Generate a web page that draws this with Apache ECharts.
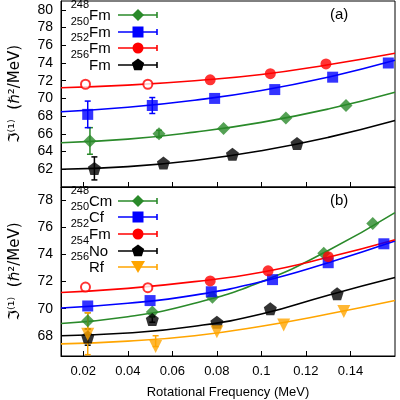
<!DOCTYPE html>
<html><head><meta charset="utf-8">
<script src="https://cdn.jsdelivr.net/npm/echarts@6/dist/echarts.min.js"></script>
<style>html,body{margin:0;padding:0;background:#fff}#c{width:400px;height:400px}</style>
</head><body><div id="c"></div>
<script>
// ---------- data ----------
const xTicks = [0.02, 0.04, 0.06, 0.08, 0.1, 0.12, 0.14];
const yTicksA = [62, 64, 66, 68, 70, 72, 74, 76, 78, 80];
const yTicksB = [68, 70, 72, 74, 76, 78];
const curveX = [0.01, 0.04, 0.07, 0.1, 0.13, 0.16];

// panel (a)
const fm248 = [[0.023,65.2],[0.054,66.0],[0.083,66.6],[0.111,67.8],[0.138,69.2]];
const fm248Err = [1.5, 0.4, 0, 0, 0];
const fm250 = [[0.022,68.2],[0.051,69.2],[0.079,70.0],[0.106,71.0],[0.132,72.4],[0.157,74.0]];
const fm250Err = [1.5, 0.9, 0, 0, 0, 0];
const fm252 = [[0.021,71.6],[0.049,71.6],[0.077,72.1],[0.104,72.8],[0.129,73.9]];
const fm256 = [[0.025,62.1],[0.056,62.7],[0.087,63.7],[0.116,64.9]];
const fm256Err = [1.3, 0, 0, 0];
const fitA248 = [65.0, 65.4, 66.2, 67.3, 68.8, 70.7];
const fitA250 = [68.5, 69.0, 69.8, 70.9, 72.4, 74.3];
const fitA252 = [71.2, 71.5, 72.0, 72.7, 73.8, 75.1];
const fitA256 = [62.0, 62.3, 63.0, 64.1, 65.6, 67.5];

// panel (b)
const cm248 = [[0.022,69.1],[0.051,69.75],[0.078,70.85],[0.128,74.1],[0.150,76.3]];
const cm248Err = [0.6, 0, 0, 0, 0];
const cf250 = [[0.022,70.2],[0.050,70.6],[0.0775,71.25],[0.105,72.15],[0.130,73.4],[0.155,74.8]];
const fm252b = [[0.021,71.6],[0.049,71.55],[0.077,72.05],[0.103,72.8],[0.130,73.85]];
const no254 = [[0.022,67.9],[0.051,69.2],[0.080,69.0],[0.104,70.0],[0.134,71.1]];
const no254Err = [0.6, 0.2, 0, 0, 0];
const rf256 = [[0.022,68.1],[0.0525,67.2],[0.080,68.3],[0.110,68.8],[0.137,69.8]];
const rf256ErrLo = [1.5, 0, 0, 0, 0];
const rf256ErrHi = [1.6, 0.8, 0, 0, 0];
const fitB248 = [68.9, 69.4, 70.4, 72.0, 74.3, 77.1];
const fitB250 = [70.05, 70.4, 71.0, 72.0, 73.4, 75.0];
const fitB252 = [71.2, 71.5, 72.0, 72.7, 73.8, 75.1];
const fitB254 = [68.0, 68.2, 68.7, 69.6, 71.0, 72.3];
const fitB256 = [67.4, 67.6, 68.0, 68.7, 69.6, 70.6];

// ---------- style ----------
const GREEN = '#2a8a2a', BLUE = '#0000ff', RED = '#ff0000', BLACK = '#000000', ORANGE = '#ffa500';
const PENT = 'path://M0,-1L0.951,-0.309L0.588,0.809L-0.588,0.809L-0.951,-0.309Z';
const FONT = 'Liberation Sans';

function fit(ys){ return curveX.map((x,i)=>[x, ys[i]]); }
function line(ys, color, gi){
  return {type:'line', xAxisIndex:gi, yAxisIndex:gi, data:fit(ys), smooth:true, showSymbol:false,
    lineStyle:{color, width:1.6}, silent:true, z:2};
}
function pts(data, color, symbol, size, gi, openFirst){
  return {type:'scatter', xAxisIndex:gi, yAxisIndex:gi, symbol, symbolSize:size, z:4,
    itemStyle:{color},
    data:data.map((d,i)=> (openFirst && i<openFirst) ?
      {value:d, symbol:'emptyCircle', symbolSize:9, itemStyle:{color:color, borderColor:color, borderWidth:2.2}} : d)};
}
function err(data, lo, hi, color, gi){
  const arr = data.map((d,i)=>[d[0], d[1], lo[i], hi[i]]).filter(d=>d[2]>0||d[3]>0);
  return {type:'custom', xAxisIndex:gi, yAxisIndex:gi, z:3, silent:true, data:arr,
    renderItem(params, api){
      const x=api.value(0), y=api.value(1);
      const a=api.coord([x, y-api.value(2)]), b=api.coord([x, y+api.value(3)]);
      const w=3;
      return {type:'group', children:[
        {type:'line', shape:{x1:a[0],y1:a[1],x2:b[0],y2:b[1]}, style:{stroke:color, lineWidth:1.5}},
        {type:'line', shape:{x1:a[0]-w,y1:a[1],x2:a[0]+w,y2:a[1]}, style:{stroke:color, lineWidth:1.5}},
        {type:'line', shape:{x1:b[0]-w,y1:b[1],x2:b[0]+w,y2:b[1]}, style:{stroke:color, lineWidth:1.5}}
      ]};
    }};
}

// legend graphics
function legendItem(y, sup, name, color, shape){
  const g = [];
  g.push({type:'text', x:89, y:y-5, style:{text:sup, font:'11px '+FONT, fill:'#000', align:'right', verticalAlign:'bottom'}});
  g.push({type:'text', x:89, y:y+1, style:{text:name, font:'15px '+FONT, fill:'#000', align:'left', verticalAlign:'middle'}});
  g.push({type:'line', shape:{x1:118,y1:y,x2:157,y2:y}, style:{stroke:color, lineWidth:1.6}});
  g.push({type:'line', shape:{x1:157,y1:y-3,x2:157,y2:y+3}, style:{stroke:color, lineWidth:1.6}});
  const cx=138, cy=y, r=6;
  let s;
  if(shape==='diamond') s={type:'polygon', shape:{points:[[cx,cy-r],[cx+r,cy],[cx,cy+r],[cx-r,cy]]}};
  else if(shape==='square') s={type:'rect', shape:{x:cx-5.5,y:cy-5.5,width:11,height:11}};
  else if(shape==='circle') s={type:'circle', shape:{cx,cy,r:5.5}};
  else if(shape==='pent') s={type:'polygon', shape:{points:[[0,-1],[0.951,-0.309],[0.588,0.809],[-0.588,0.809],[-0.951,-0.309]].map(p=>[cx+p[0]*6.5,cy+p[1]*6.5])}};
  else s={type:'polygon', shape:{points:[[cx-7,cy-6],[cx+7,cy-6],[cx,cy+6]]}};
  s.style={fill:color}; s.z=10;
  g.push(s);
  return g;
}
const graphics = [].concat(
  legendItem(15,'248','Fm',GREEN,'diamond'),
  legendItem(32,'250','Fm',BLUE,'square'),
  legendItem(48,'252','Fm',RED,'circle'),
  legendItem(65,'256','Fm',BLACK,'pent'),
  legendItem(201,'248','Cm',GREEN,'diamond'),
  legendItem(217,'250','Cf',BLUE,'square'),
  legendItem(234,'252','Fm',RED,'circle'),
  legendItem(251,'254','No',BLACK,'pent'),
  legendItem(267,'256','Rf',ORANGE,'tri'),
  [{type:'text', x:330, y:15, style:{text:'(a)', font:'15px '+FONT, fill:'#000', verticalAlign:'middle'}},
   {type:'text', x:330, y:201, style:{text:'(b)', font:'15px '+FONT, fill:'#000', verticalAlign:'middle'}}]
);

function xAx(gi, showLabel){
  return {type:'value', gridIndex:gi, min:0.01, max:0.16,
    axisLine:{show:true, lineStyle:{color:'#000', width:1}},
    axisTick:{show:true, inside:true, length:5, customValues:xTicks, lineStyle:{color:'#000'}},
    axisLabel:{show:showLabel, customValues:xTicks, color:'#000', fontSize:13, fontFamily:FONT, margin:9,
      formatter:v=>String(+v.toFixed(2))},
    splitLine:{show:false},
    name: showLabel ? 'Rotational Frequency (MeV)' : '', nameLocation:'middle', nameGap:30,
    nameTextStyle:{color:'#000', fontSize:13, fontFamily:FONT}};
}
function yAx(gi, min, max, ticks){
  return {type:'value', gridIndex:gi, min, max,
    axisLine:{show:true, lineStyle:{color:'#000'}},
    axisTick:{show:true, inside:true, length:5, customValues:ticks, lineStyle:{color:'#000'}},
    axisLabel:{customValues:ticks, color:'#000', fontSize:14, fontFamily:FONT, margin:8},
    splitLine:{show:false},
    name:'\u2111\u207D\u00B9\u207E  (\u210F\u00B2/MeV)', nameLocation:'middle', nameRotate:90, nameGap:38,
    nameTextStyle:{color:'#000', fontSize:15, fontFamily:'DejaVu Sans'}};
}

const chart = echarts.init(document.getElementById('c'), null, {renderer:'canvas'});
chart.setOption({
  animation:false,
  backgroundColor:'#fff',
  grid:[
    {left:60, top:1, width:335, height:186, show:true, borderColor:'#000', borderWidth:1},
    {left:60, top:187, width:335, height:170, show:true, borderColor:'#000', borderWidth:1}
  ],
  xAxis:[xAx(0,false), xAx(1,true)],
  yAxis:[yAx(0,60,81,yTicksA), yAx(1,66.5,79,yTicksB)],
  graphic:graphics,
  series:[
    line(fitA248,GREEN,0), line(fitA250,BLUE,0), line(fitA252,RED,0), line(fitA256,BLACK,0),
    err(fm248, fm248Err, fm248Err, GREEN, 0),
    err(fm250, fm250Err, fm250Err, BLUE, 0),
    err(fm256, fm256Err, fm256Err, BLACK, 0),
    pts(fm248, GREEN, 'diamond', 13, 0),
    pts(fm250, BLUE, 'rect', 11, 0),
    pts(fm252, RED, 'circle', 11, 0, 2),
    pts(fm256, BLACK, PENT, 13, 0),

    line(fitB248,GREEN,1), line(fitB250,BLUE,1), line(fitB252,RED,1), line(fitB254,BLACK,1), line(fitB256,ORANGE,1),
    err(cm248, cm248Err, cm248Err, GREEN, 1),
    err(no254, no254Err, no254Err, BLACK, 1),
    err(rf256, rf256ErrLo, rf256ErrHi, ORANGE, 1),
    pts(cm248, GREEN, 'diamond', 13, 1),
    pts(cf250, BLUE, 'rect', 11, 1),
    pts(fm252b, RED, 'circle', 11, 1, 2),
    pts(no254, BLACK, PENT, 13, 1),
    Object.assign(pts(rf256, ORANGE, 'triangle', 13, 1), {symbolRotate:180})
  ]
});
</script></body></html>
